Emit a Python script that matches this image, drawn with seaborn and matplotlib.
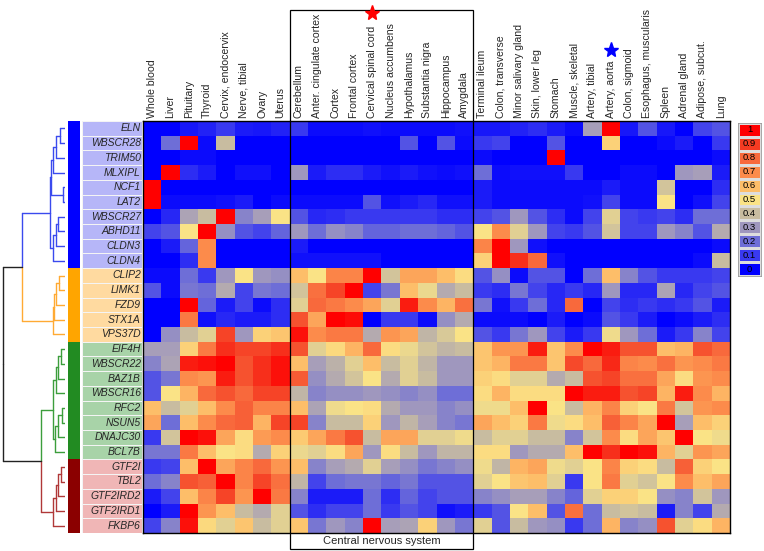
import numpy as np
import pandas as pd
import matplotlib
matplotlib.use('Agg')
import matplotlib.pyplot as plt
import seaborn as sns
from matplotlib.colors import LinearSegmentedColormap, ListedColormap
from matplotlib import transforms
from matplotlib.patches import Rectangle

# tissues (columns); 8..17 are the central nervous system block
tissues = ['Whole blood', 'Liver', 'Pituitary', 'Thyroid', 'Cervix, endocervix',
           'Nerve, tibial', 'Ovary', 'Uterus',
           'Cerebellum', 'Anter. cingulate cortex', 'Cortex', 'Frontal cortex',
           'Cervical spinal cord', 'Nucleus accumbens', 'Hypothalamus',
           'Substantia nigra', 'Hippocampus', 'Amygdala',
           'Terminal ileum', 'Colon, transverse', 'Minor salivary gland',
           'Skin, lower leg', 'Stomach', 'Muscle, skeletal', 'Artery, tibial',
           'Artery, aorta', 'Colon, sigmoid', 'Esophagus, muscularis', 'Spleen',
           'Adrenal gland', 'Adipose, subcut.', 'Lung']
cns_first, cns_last = 8, 18
red_star_tissue = 'Cervical spinal cord'
blue_star_tissue = 'Artery, aorta'

# genes by cluster (row order of the heatmap)
blue_genes = ['ELN', 'WBSCR28', 'TRIM50', 'MLXIPL', 'NCF1', 'LAT2',
              'WBSCR27', 'ABHD11', 'CLDN3', 'CLDN4']
orange_genes = ['CLIP2', 'LIMK1', 'FZD9', 'STX1A', 'VPS37D']
green_genes = ['EIF4H', 'WBSCR22', 'BAZ1B', 'WBSCR16', 'RFC2', 'NSUN5',
               'DNAJC30', 'BCL7B']
red_genes = ['GTF2I', 'TBL2', 'GTF2IRD2', 'GTF2IRD1', 'FKBP6']

# scaled expression
blue_vals = [
    [0, 0, 0.04, 0.06, 0.1, 0.05, 0.04, 0.06, 0.1, 0.02, 0.02, 0.02, 0.03, 0.02, 0.02, 0.02, 0.02, 0.03,
     0.04, 0.04, 0.06, 0.08, 0.05, 0.02, 0.32, 1.0, 0.04, 0.15, 0.04, 0, 0.12, 0.15],
    [0, 0.2, 1.0, 0.02, 0.4, 0, 0, 0, 0, 0, 0, 0, 0, 0, 0.15, 0, 0.15, 0.02,
     0.1, 0.12, 0, 0, 0.15, 0, 0, 0.55, 0, 0, 0.02, 0.05, 0, 0.1],
    [0, 0, 0.02, 0.02, 0, 0, 0, 0, 0, 0, 0, 0, 0, 0, 0, 0, 0, 0,
     0.02, 0, 0, 0, 1.0, 0, 0, 0, 0, 0, 0, 0, 0, 0.02],
    [0, 1.0, 0.08, 0.05, 0, 0.03, 0.03, 0, 0.3, 0.05, 0.08, 0.08, 0.05, 0.03, 0.05, 0.03, 0.02, 0.03,
     0.2, 0.02, 0.03, 0.03, 0.03, 0.1, 0, 0, 0.02, 0.02, 0, 0.3, 0.32, 0.05],
    [1.0, 0, 0, 0, 0, 0, 0, 0, 0, 0, 0, 0, 0, 0, 0, 0, 0, 0,
     0.05, 0.02, 0.02, 0.02, 0.02, 0.02, 0.02, 0.05, 0.02, 0.02, 0.42, 0, 0, 0.08],
    [1.0, 0.02, 0.02, 0.02, 0.03, 0.05, 0, 0.02, 0.02, 0.02, 0.02, 0.02, 0.15, 0.03, 0.05, 0.07, 0.03, 0.03,
     0.05, 0.02, 0.02, 0.02, 0.02, 0.02, 0.03, 0.12, 0.02, 0.02, 0.5, 0, 0.03, 0.12],
    [0, 0.07, 0.33, 0.4, 1.0, 0.25, 0.32, 0.5, 0.15, 0.07, 0.08, 0.1, 0.1, 0.1, 0.1, 0.1, 0.08, 0.08,
     0.12, 0.15, 0.3, 0.15, 0.08, 0.02, 0.12, 0.45, 0.12, 0.1, 0.12, 0.08, 0.2, 0.2],
    [0.12, 0.15, 0.5, 1.0, 0.28, 0.15, 0.12, 0.18, 0.3, 0.2, 0.28, 0.25, 0.18, 0.18, 0.2, 0.2, 0.18, 0.15,
     0.5, 0.7, 0.45, 0.3, 0.12, 0.1, 0.15, 0.42, 0.12, 0.12, 0.3, 0.25, 0.15, 0.35],
    [0, 0.05, 0.18, 0.7, 0, 0, 0, 0, 0.05, 0, 0, 0, 0, 0, 0, 0, 0, 0,
     0.72, 1.0, 0.3, 0.03, 0, 0, 0, 0, 0, 0, 0, 0, 0, 0.02],
    [0, 0, 0.08, 0.7, 0, 0, 0, 0, 0.03, 0.03, 0.03, 0.03, 0.03, 0, 0, 0, 0, 0,
     0.55, 1.0, 0.92, 0.8, 0.03, 0, 0, 0, 0, 0, 0, 0, 0.02, 0.4],
]
orange_vals = [
    [0.02, 0.02, 0.2, 0.1, 0.3, 0.5, 0.3, 0.28, 0.6, 0.5, 0.72, 0.72, 1.0, 0.42, 0.65, 0.65, 0.6, 0.52,
     0.15, 0.28, 0.02, 0.15, 0.15, 0, 0.2, 0.6, 0.25, 0.15, 0.1, 0.1, 0.1, 0.12],
    [0.15, 0.02, 0.22, 0.2, 0.35, 0.12, 0.22, 0.2, 0.42, 0.78, 0.88, 1.0, 0.12, 0.22, 0.6, 0.47, 0.35, 0.4,
     0.1, 0.08, 0.22, 0.12, 0.07, 0.1, 0.07, 0.3, 0.07, 0.07, 0.33, 0.07, 0.12, 0.15],
    [0, 0, 1.0, 0.18, 0.05, 0.12, 0.02, 0.08, 0.45, 0.8, 0.75, 0.7, 0.65, 0.45, 0.95, 0.7, 0.62, 0.78,
     0.22, 0.03, 0.1, 0.2, 0.07, 0.8, 0, 0.12, 0.08, 0.1, 0.08, 0.1, 0.15, 0.05],
    [0, 0, 0.75, 0.03, 0.07, 0.05, 0.05, 0.08, 0.85, 0.65, 1.0, 0.98, 0, 0.1, 0.1, 0.02, 0.28, 0.35,
     0.02, 0.02, 0.02, 0, 0.05, 0, 0.02, 0.15, 0.1, 0.05, 0, 0.02, 0.05, 0.08],
    [0, 0.28, 0.4, 0.45, 0.88, 0.3, 0.55, 0.58, 0.97, 0.7, 0.75, 0.75, 0.35, 0.68, 0.65, 0.38, 0.43, 0.5,
     0.15, 0.1, 0.22, 0.3, 0.12, 0.05, 0.1, 0.48, 0.3, 0.2, 0.05, 0.1, 0.25, 0.12],
]
green_vals = [
    [0.32, 0.32, 0.55, 0.75, 0.92, 0.88, 0.88, 0.92, 0.85, 0.45, 0.53, 0.62, 0.8, 0.52, 0.47, 0.42, 0.38, 0.4,
     0.58, 0.68, 0.68, 0.95, 0.58, 0.7, 1.0, 0.95, 0.85, 0.85, 0.6, 0.62, 0.85, 0.8],
    [0.25, 0.33, 0.95, 0.97, 1.0, 0.85, 0.92, 0.97, 0.6, 0.32, 0.37, 0.45, 0.6, 0.4, 0.45, 0.38, 0.3, 0.3,
     0.58, 0.62, 0.75, 0.75, 0.58, 0.87, 0.8, 0.93, 0.72, 0.7, 0.78, 0.68, 0.7, 0.75],
    [0.15, 0.22, 0.7, 0.68, 0.95, 0.85, 0.92, 0.97, 0.83, 0.28, 0.35, 0.42, 0.5, 0.35, 0.45, 0.4, 0.3, 0.3,
     0.55, 0.52, 0.45, 0.45, 0.35, 0.4, 0.85, 0.88, 0.78, 0.78, 0.65, 0.52, 0.68, 0.7],
    [0.15, 0.5, 0.62, 0.8, 0.85, 0.8, 0.88, 0.88, 0.38, 0.25, 0.28, 0.28, 0.3, 0.28, 0.25, 0.28, 0.2, 0.2,
     0.52, 0.62, 0.52, 0.52, 0.52, 1.0, 0.95, 0.95, 0.85, 0.88, 0.62, 0.95, 0.7, 0.62],
    [0.6, 0.4, 0.45, 0.6, 0.7, 0.82, 0.72, 0.72, 0.6, 0.33, 0.48, 0.5, 0.52, 0.35, 0.3, 0.3, 0.25, 0.28,
     0.48, 0.48, 0.6, 1.0, 0.5, 0.4, 0.62, 0.72, 0.55, 0.5, 0.75, 0.42, 0.68, 0.7],
    [0.65, 0.2, 0.6, 0.7, 0.8, 0.82, 0.62, 0.88, 0.88, 0.25, 0.4, 0.4, 0.55, 0.3, 0.38, 0.32, 0.25, 0.22,
     0.65, 0.6, 0.55, 0.75, 0.48, 0.52, 0.6, 0.82, 0.72, 0.65, 1.0, 0.32, 0.6, 0.55],
    [0.1, 0.42, 1.0, 0.97, 0.65, 0.52, 0.67, 0.7, 0.57, 0.65, 0.75, 0.85, 0.4, 0.65, 0.65, 0.45, 0.45, 0.48,
     0.4, 0.45, 0.45, 0.4, 0.4, 0.25, 0.42, 0.7, 0.52, 0.65, 0.58, 1.0, 0.5, 0.48],
    [0.22, 0.22, 0.75, 0.6, 0.5, 0.52, 0.35, 0.55, 0.47, 0.45, 0.52, 0.65, 0.3, 0.52, 0.4, 0.3, 0.38, 0.38,
     0.52, 0.52, 0.3, 0.35, 0.35, 0.6, 1.0, 0.92, 1.0, 0.97, 0.62, 0.45, 0.68, 0.65],
]
red_vals = [
    [0.1, 0.12, 0.6, 1.0, 0.65, 0.72, 0.8, 0.68, 0.6, 0.25, 0.32, 0.35, 0.45, 0.32, 0.28, 0.22, 0.25, 0.28,
     0.48, 0.38, 0.62, 0.65, 0.48, 0.45, 0.5, 0.72, 0.55, 0.52, 0.4, 0.82, 0.55, 0.5],
    [0.2, 0.25, 0.85, 0.82, 1.0, 0.72, 0.88, 0.78, 0.38, 0.12, 0.2, 0.22, 0.22, 0.18, 0.22, 0.15, 0.15, 0.15,
     0.45, 0.5, 0.58, 0.6, 0.45, 0.1, 0.5, 0.75, 0.45, 0.42, 0.5, 0.7, 0.6, 0.65],
    [0.05, 0.12, 0.6, 0.72, 0.88, 0.68, 1.0, 0.75, 0.25, 0.05, 0.05, 0.05, 0.2, 0.08, 0.18, 0.12, 0.15, 0.15,
     0.25, 0.28, 0.32, 0.32, 0.25, 0.18, 0.45, 0.55, 0.55, 0.5, 0.28, 0.25, 0.42, 0.3],
    [0, 0.05, 1.0, 0.68, 0.6, 0.4, 0.35, 0.45, 0.15, 0.08, 0.12, 0.12, 0.2, 0.1, 0.15, 0.12, 0.03, 0.05,
     0.1, 0.15, 0.5, 0.6, 0.15, 0.78, 0.2, 0.4, 0.42, 0.4, 0.05, 0.25, 0.12, 0.35],
    [0.12, 0.25, 0.97, 0.53, 0.45, 0.58, 0.4, 0.45, 0.58, 0.22, 0.3, 0.25, 1.0, 0.32, 0.33, 0.55, 0.3, 0.22,
     0.45, 0.15, 0.4, 0.3, 0.28, 0.1, 0.2, 0.62, 0.25, 0.28, 0.85, 0.45, 0.52, 0.62],
]

# dendrogram merges: (left node, right node, height); leaves are row numbers 0..27
merges = [
    (0, 1, 0.08), (28, 2, 0.14), (29, 3, 0.20), (4, 5, 0.03), (30, 31, 0.23),
    (6, 7, 0.12), (33, 8, 0.15), (34, 9, 0.19), (32, 35, 0.25),
    (10, 11, 0.09), (37, 12, 0.14), (38, 13, 0.17), (39, 14, 0.20),
    (36, 40, 0.69),
    (15, 16, 0.07), (42, 17, 0.11), (43, 18, 0.15), (19, 20, 0.05),
    (45, 21, 0.12), (46, 22, 0.16), (44, 47, 0.20),
    (23, 24, 0.06), (49, 25, 0.11), (50, 26, 0.14), (51, 27, 0.20),
    (48, 52, 0.39), (41, 53, 1.0),
]

cbar_levels = [1, 0.9, 0.8, 0.7, 0.6, 0.5, 0.4, 0.3, 0.2, 0.1, 0]

heat_colors = ['#0000ff', '#3a3af0', '#6e6ed7', '#a098be', '#c8bca0', '#fae487',
               '#fdbe69', '#fc8c4b', '#f8693c', '#f53c23', '#ff0000']
strip_colors = ['#0000ff', '#ffa500', '#228b22', '#8b0000']
label_bg_colors = ['#b6b6f8', '#ffdaa0', '#a8d3a8', '#f0b6b6']
dendro_colors = ['#3a4aee', '#ffaa33', '#3c9e3c', '#b03838']

genes = blue_genes + orange_genes + green_genes + red_genes
df = pd.DataFrame(blue_vals + orange_vals + green_vals + red_vals,
                  index=genes, columns=tissues)
cluster_id = ([0] * len(blue_genes) + [1] * len(orange_genes)
              + [2] * len(green_genes) + [3] * len(red_genes))
clusters = pd.DataFrame({'cluster': cluster_id}, index=genes)

sns.set_theme(style='white')
plt.rcParams['font.family'] = ['Liberation Sans', 'DejaVu Sans']

W, H = 764, 551
fig = plt.figure(figsize=(W / 100, H / 100), dpi=100)


def px_axes(x0, y0, x1, y1):
    return fig.add_axes([x0 / W, 1 - y1 / H, (x1 - x0) / W, (y1 - y0) / H])


top, bottom = 121, 533
cmap = LinearSegmentedColormap.from_list('wbs', heat_colors)

# cluster colour strip and label background
ax_strip = px_axes(68, top, 80, bottom)
sns.heatmap(clusters, ax=ax_strip, cmap=ListedColormap(strip_colors), vmin=-0.5, vmax=3.5,
            cbar=False, xticklabels=False, yticklabels=False)
ax_lab = px_axes(82, top, 142, bottom)
sns.heatmap(clusters, ax=ax_lab, cmap=ListedColormap(label_bg_colors), vmin=-0.5, vmax=3.5,
            cbar=False, xticklabels=False, yticklabels=False, linewidths=0.4, linecolor='#f4f4f4')
for a in (ax_strip, ax_lab):
    a.set_xlabel('')
    a.set_ylabel('')

# main heatmap
ax = px_axes(143, top, 730, bottom)
sns.heatmap(df, ax=ax, cmap=cmap, vmin=0, vmax=1, cbar=False,
            xticklabels=True, yticklabels=True)
ax.set_xlabel('')
ax.set_ylabel('')
ax.xaxis.tick_top()
ax.tick_params(axis='x', length=0, pad=2.5, labelsize=7.6, rotation=90)
ax.tick_params(axis='y', length=0, pad=1.5, labelsize=7.5, rotation=0)
for t in ax.get_xticklabels():
    t.set_va('bottom')
for t in ax.get_yticklabels():
    t.set_style('italic')
for s in ax.spines.values():
    s.set_visible(True)
    s.set_color('black')
    s.set_linewidth(1)

# central nervous system box, stars
tr = transforms.blended_transform_factory(ax.transData, fig.transFigure)
ax.add_patch(Rectangle((cns_first, 1 - 549 / H), cns_last - cns_first, 539 / H,
                       transform=tr, fill=False, ec='black', lw=0.9, clip_on=False))
ax.text((cns_first + cns_last) / 2, 1 - 541 / H, 'Central nervous system', transform=tr,
        ha='center', va='center', fontsize=8)
ax.plot(tissues.index(red_star_tissue) + 0.5, 1 - 13 / H, marker='*', color='red',
        markersize=11, transform=tr, clip_on=False)
ax.plot(tissues.index(blue_star_tissue) + 0.5, 1 - 50 / H, marker='*', color='blue',
        markersize=11, transform=tr, clip_on=False)

# dendrogram
ax_d = px_axes(2, top, 65, bottom)
n = len(genes)
ypos = {i: i + 0.5 for i in range(n)}
hgt = {i: 0.0 for i in range(n)}
col = {i: dendro_colors[c] for i, c in enumerate(cluster_id)}
for k, (a, b, h) in enumerate(merges):
    node = n + k
    ymid = (ypos[a] + ypos[b]) / 2
    for c in (a, b):
        ax_d.plot([hgt[c], h], [ypos[c], ypos[c]], color=col[c], lw=1)
    ax_d.plot([h, h], [ypos[a], ymid], color=col[a], lw=1)
    ax_d.plot([h, h], [ymid, ypos[b]], color=col[b], lw=1)
    ypos[node], hgt[node] = ymid, h
    col[node] = col[a] if col[a] == col[b] else '#222222'
ax_d.set_ylim(n, 0)
ax_d.set_xlim(1.0 + 1 / 61, 0)
ax_d.axis('off')

# colour key
ax_c = px_axes(738, 123, 761, 276)
key = pd.DataFrame({'v': cbar_levels})
sns.heatmap(key, ax=ax_c, cmap=cmap, vmin=0, vmax=1, cbar=False,
            annot=np.array([[str(v)] for v in cbar_levels]), fmt='',
            annot_kws={'fontsize': 6.8, 'color': 'black'},
            linewidths=0.8, linecolor='#dddddd', xticklabels=False, yticklabels=False)
ax_c.set_xlabel('')
ax_c.set_ylabel('')
for s in ax_c.spines.values():
    s.set_visible(True)
    s.set_color('#999999')
    s.set_linewidth(0.6)

fig.savefig('out.png', dpi=100)
